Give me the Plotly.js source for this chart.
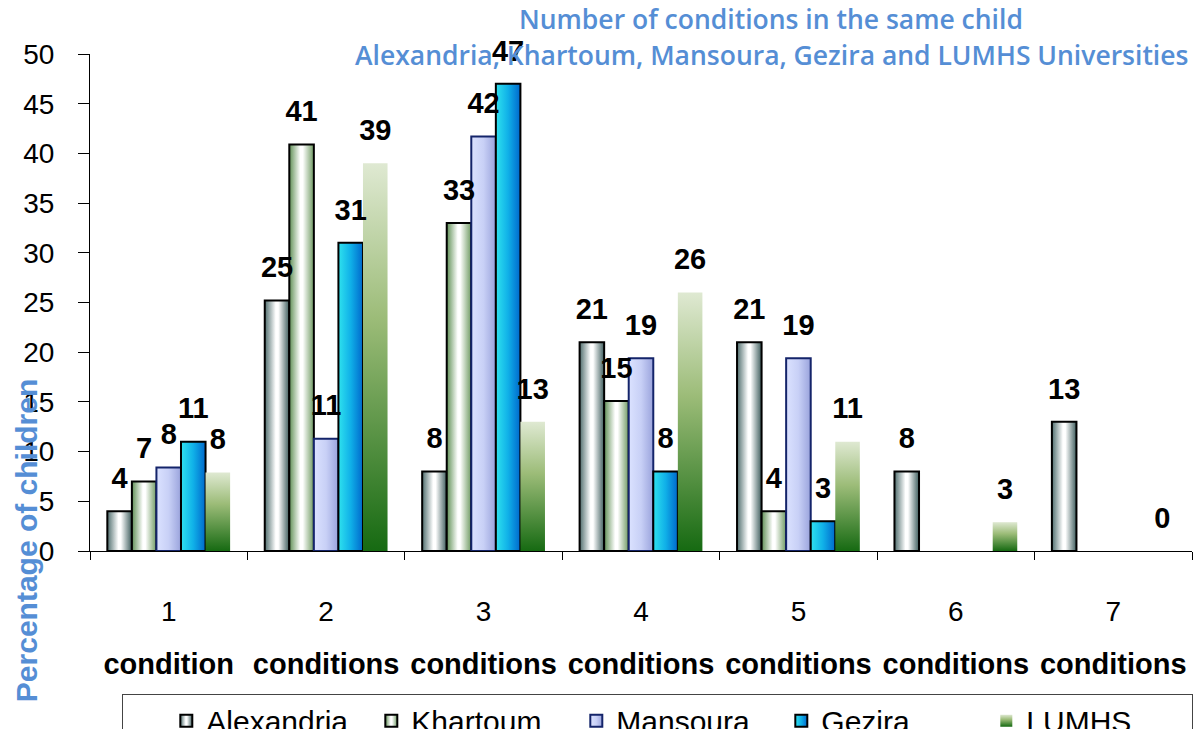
<!DOCTYPE html>
<html>
<head>
<meta charset="utf-8">
<script src="https://cdn.plot.ly/plotly-3.0.1.min.js"></script>
<style>
html,body{margin:0;padding:0;background:#fff;}
#chart{width:1204px;height:729px;}
</style>
</head>
<body>
<div id="chart"></div>
<script>
// ---- data ----
const categories = ["1", "2", "3", "4", "5", "6", "7"];
const categoryWords = ["condition", "conditions", "conditions", "conditions", "conditions", "conditions", "conditions"];
const seriesNames = ["Alexandria", "Khartoum", "Mansoura", "Gezira", "LUMHS"];
const alexandria = [4, 25.2, 8, 21, 21, 8, 13];
const khartoum   = [7, 40.9, 33, 15.1, 4, null, null];
const mansoura   = [8.4, 11.3, 41.7, 19.4, 19.4, null, null];
const gezira     = [11, 31, 47, 8, 3, null, null];
const lumhs      = [7.9, 39, 13, 26, 11, 2.9, 0];
const yTickVals  = [0, 5, 10, 15, 20, 25, 30, 35, 40, 45, 50];
const titleLine1 = "Number of conditions in the same child";
const titleLine2 = "Alexandria, Khartoum, Mansoura, Gezira and LUMHS Universities";
const yTitle = "Percentage of children";

const seriesValues = [alexandria, khartoum, mansoura, gezira, lumhs];
const baseColors = ["#a9bcbc", "#b8ccb0", "#c0c8f0", "#1aa8e8", "#6a9a50"];
const lineColors = ["#000000", "#000000", "#14246a", "#000000", "rgba(0,0,0,0)"];
const lineWidths = [2, 2, 2, 2, 0];

const tickText = categories.map((c, i) =>
  '<span style="font-size:28px">' + c + '</span><br><br><span style="font-size:29px"><b>' + categoryWords[i] + '</b></span>');

const traces = [];
seriesValues.forEach((vals, i) => {
  traces.push({
    type: 'bar', name: seriesNames[i], x: categories, y: vals,
    offsetgroup: String(i), alignmentgroup: 'a',
    marker: {color: baseColors[i], line: {color: lineColors[i], width: lineWidths[i]}},
    hoverinfo: 'none'
  });
});
seriesValues.forEach((vals, i) => {
  traces.push({
    type: 'scatter', mode: 'markers+text', x: categories, y: vals,
    offsetgroup: String(i), alignmentgroup: 'a',
    text: vals.map(v => v === null ? '' : String(Math.round(v))),
    textposition: 'top center',
    textfont: {family: 'Liberation Sans, Arial, sans-serif', size: 29, color: '#000', weight: 'bold'},
    marker: {size: 24, color: 'rgba(0,0,0,0)', opacity: 0},
    showlegend: false, cliponaxis: false, hoverinfo: 'none'
  });
});

const blue = '#558ed5';
const layout = {
  width: 1204, height: 729,
  margin: {l: 90, r: 12, t: 54, b: 178, autoexpand: false},
  paper_bgcolor: '#fff', plot_bgcolor: '#fff',
  barmode: 'group', bargap: 0.22, bargroupgap: 0,
  scattermode: 'group', scattergap: 0.22,
  showlegend: true,
  font: {family: 'Liberation Sans, Arial, sans-serif', color: '#000'},
  xaxis: {
    type: 'category', tickmode: 'array', tickvals: categories, ticktext: tickText,
    tickson: 'boundaries', ticks: 'outside', ticklen: 8, tickcolor: '#000', tickwidth: 1,
    showline: true, linecolor: '#000', linewidth: 1, showgrid: false, zeroline: false,
    tickfont: {size: 20.5, color: '#000'}, ticklabelstandoff: 44, fixedrange: true
  },
  yaxis: {
    range: [0, 50], tickmode: 'array', tickvals: yTickVals,
    ticks: 'outside', ticklen: 11, tickcolor: '#000', tickwidth: 1,
    showline: true, linecolor: '#000', linewidth: 1, showgrid: false, zeroline: false,
    tickfont: {size: 28, color: '#000'}, ticklabelstandoff: 18, fixedrange: true
  },
  legend: {
    orientation: 'h', x: 0.029, xanchor: 'left', y: -0.287, yanchor: 'top',
    bordercolor: '#444', borderwidth: 1, bgcolor: '#fff',
    font: {size: 30, color: '#000', family: 'Liberation Sans, Arial, sans-serif'},
    title: {text: '&nbsp;&nbsp;&nbsp;&nbsp;', side: 'left', font: {size: 30}},
    itemwidth: 30, entrywidth: 160, traceorder: 'normal'
  },
  annotations: [
    {text: titleLine1, xref: 'paper', yref: 'paper', x: 0.618, y: 1.071, showarrow: false,
     xanchor: 'center', yanchor: 'middle',
     font: {family: 'Open Sans, sans-serif', size: 26.5, color: blue, weight: 600}},
    {text: titleLine2, xref: 'paper', yref: 'paper', x: 0.618, y: 0.998, showarrow: false,
     xanchor: 'center', yanchor: 'middle',
     font: {family: 'Open Sans, sans-serif', size: 26.5, color: blue, weight: 600}},
    {text: '<b>' + yTitle + '</b>', xref: 'paper', yref: 'paper', x: -0.058, y: 0.02,
     showarrow: false, textangle: -90, xanchor: 'center', yanchor: 'middle',
     font: {family: 'Liberation Sans, Arial, sans-serif', size: 30, color: blue}}
  ]
};

const gradients = [
  {id: 'gAlex', dir: 'h', stops: [[0, '#4f6d6d'], [0.45, '#ffffff'], [0.55, '#ffffff'], [1, '#3f5e5e']]},
  {id: 'gKhar', dir: 'h', stops: [[0, '#5f8f55'], [0.45, '#ffffff'], [0.55, '#ffffff'], [1, '#6f9a62']]},
  {id: 'gMans', dir: 'h', stops: [[0, '#dbe2ff'], [0.5, '#c8d0f6'], [1, '#9aa3dc']]},
  {id: 'gGez', dir: 'h', stops: [[0, '#2fe2ee'], [0.5, '#10b0e8'], [1, '#0068cc']]},
  {id: 'gLum', dir: 'v', stops: [[0, '#dfe9d2'], [0.4, '#9cbc78'], [1, '#166a12']]}
];

const gd = document.getElementById('chart');
Plotly.newPlot(gd, traces, layout, {staticPlot: true, displayModeBar: false}).then(() => {
  const svg = gd.querySelector('svg.main-svg');
  let defs = svg.querySelector('defs');
  const NS = 'http://www.w3.org/2000/svg';
  gradients.forEach(g => {
    const lg = document.createElementNS(NS, 'linearGradient');
    lg.setAttribute('id', g.id);
    lg.setAttribute('x1', '0'); lg.setAttribute('y1', '0');
    lg.setAttribute('x2', g.dir === 'h' ? '1' : '0');
    lg.setAttribute('y2', g.dir === 'h' ? '0' : '1');
    g.stops.forEach(s => {
      const st = document.createElementNS(NS, 'stop');
      st.setAttribute('offset', s[0]);
      st.setAttribute('stop-color', s[1]);
      lg.appendChild(st);
    });
    defs.appendChild(lg);
  });
  const barTraces = gd.querySelectorAll('.barlayer .trace');
  barTraces.forEach((t, i) => {
    t.querySelectorAll('path').forEach(p => { p.style.fill = 'url(#' + gradients[i].id + ')'; });
  });
  const legTraces = gd.querySelectorAll('.legend .traces');
  legTraces.forEach((t, i) => {
    if (i < gradients.length) {
      t.querySelectorAll('.legendpoints path').forEach(p => { p.style.fill = 'url(#' + gradients[i].id + ')'; });
    }
  });
});
</script>
</body>
</html>
